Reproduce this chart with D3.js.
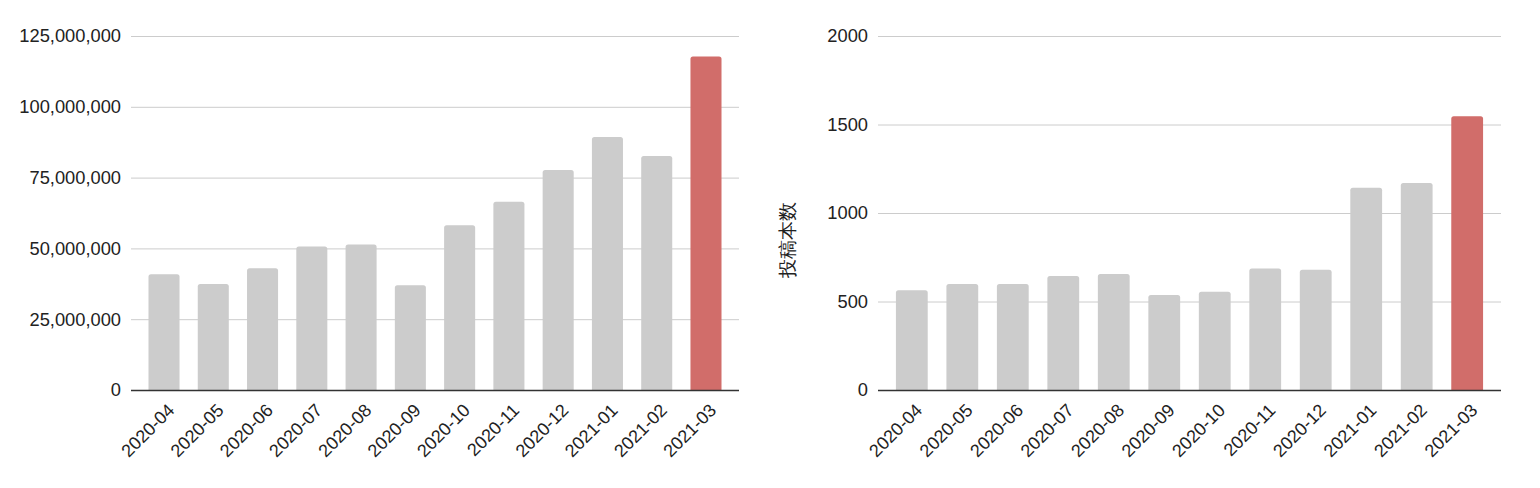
<!DOCTYPE html>
<html>
<head>
<meta charset="utf-8">
<script src="https://cdn.jsdelivr.net/npm/d3@7"></script>
<style>
html,body{margin:0;padding:0;background:#fff;}
svg{display:block;}
text{font-family:"Liberation Sans",Arial,sans-serif;fill:#222;}
</style>
</head>
<body>
<svg id="chart" width="1540" height="488"></svg>
<script>
const months = ["2020-04","2020-05","2020-06","2020-07","2020-08","2020-09","2020-10","2020-11","2020-12","2021-01","2021-02","2021-03"];
const views = [40900000, 37400000, 43000000, 50700000, 51400000, 37000000, 58200000, 66500000, 77700000, 89300000, 82600000, 117800000];
const posts = [563, 599, 599, 644, 655, 537, 555, 687, 680, 1143, 1169, 1546];
const viewTicks = [0, 25000000, 50000000, 75000000, 100000000, 125000000];
const postTicks = [0, 500, 1000, 1500, 2000];
const postAxisTitle = "投稿本数";
const highlight = "2021-03";

const svg = d3.select("#chart");
const GREY = "#cccccc", RED = "#d16d6a";

function roundedTopBar(x, y, w, h, r) {
  r = Math.min(r, h, w / 2);
  return `M${x},${y + h}V${y + r}Q${x},${y} ${x + r},${y}H${x + w - r}Q${x + w},${y} ${x + w},${y + r}V${y + h}Z`;
}

function drawPanel(cfg) {
  const g = svg.append("g");
  const x = d3.scaleBand().domain(months).range([cfg.x0, cfg.x1])
    .paddingInner(0.37).paddingOuter(0.355);
  const y = d3.scaleLinear().domain([0, cfg.max]).range([390, 36]);

  const yAxis = d3.axisLeft(y).tickValues(cfg.ticks).tickSize(-(cfg.x1 - cfg.x0))
    .tickPadding(10).tickFormat(cfg.fmt);
  const ga = g.append("g").attr("transform", `translate(${cfg.x0},0)`).call(yAxis);
  ga.select(".domain").remove();
  ga.selectAll(".tick line").attr("stroke", "#cccccc").attr("stroke-width", 1);
  ga.selectAll(".tick text").attr("font-size", 18.3).attr("fill", "#222")
    .attr("font-family", '"Liberation Sans",Arial,sans-serif');

  g.append("g").selectAll("path").data(months).join("path")
    .attr("d", (m, i) => {
      const v = cfg.values[i];
      return roundedTopBar(x(m), y(v), x.bandwidth(), y(0) - y(v), 2.5);
    })
    .attr("fill", m => m === highlight ? RED : GREY);

  const xAxis = d3.axisBottom(x).tickSize(0).tickPadding(0);
  const gx = g.append("g").attr("transform", `translate(0,${y(0)})`).call(xAxis);
  gx.select(".domain").attr("d", `M${cfg.x0},0.5H${cfg.x1}`).attr("stroke", "#333").attr("stroke-width", 1.3);
  gx.selectAll(".tick text")
    .attr("font-size", 18).attr("fill", "#222")
    .attr("font-family", '"Liberation Sans",Arial,sans-serif')
    .attr("text-anchor", "end")
    .attr("dy", "0.35em")
    .attr("y", 0)
    .attr("transform", "translate(7,17) rotate(-45)");

  if (cfg.title) {
    g.append("text")
      .attr("transform", `translate(${cfg.titleX},${(36 + 390) / 2 + 27}) rotate(-90)`)
      .attr("text-anchor", "middle")
      .attr("dy", "0.35em")
      .attr("font-size", 18.5)
      .attr("font-family", '"Noto Sans CJK JP","Liberation Sans",sans-serif')
      .text(cfg.title);
  }
}

drawPanel({ x0: 131, x1: 739, max: 125000000, ticks: viewTicks, values: views, fmt: d3.format(",") });
drawPanel({ x0: 878, x1: 1501, max: 2000, ticks: postTicks, values: posts, fmt: d3.format("d"), title: postAxisTitle, titleX: 788 });
</script>
</body>
</html>
